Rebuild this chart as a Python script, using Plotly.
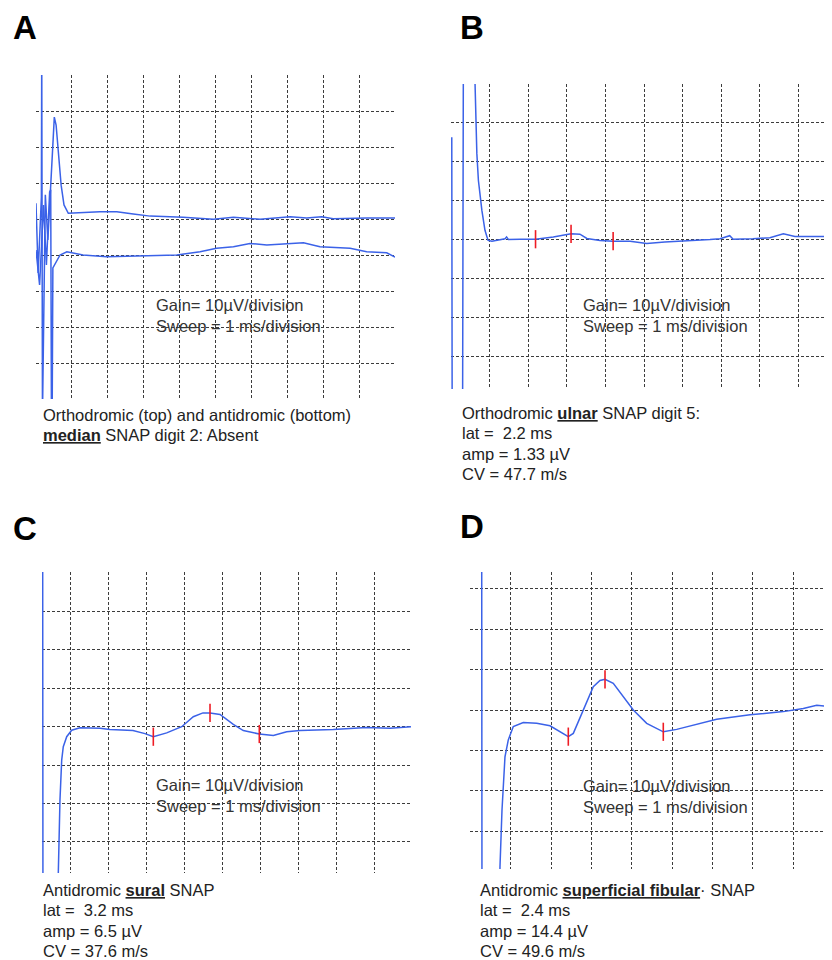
import plotly.graph_objects as go

W, H = 832, 960
OFF = 8  # browser body margin
FW, FH = W - OFF, H - OFF
BLUE = "#3b62e8"
RED = "#ee1c25"
GRID = "#3c3c3c"
FONT = "Liberation Sans, Arial, sans-serif"

# ---------------- data (time in ms, amplitude in µV) ----------------
# Panel A: orthodromic (top) and antidromic (bottom) median SNAP, absent
a_top_t = [0.00, 0.06, 0.15, 0.16, 0.18, 0.22, 0.26, 0.33, 0.40, 0.51, 0.56, 0.63, 0.70, 0.78, 0.90,
           1.78, 2.25, 2.71, 3.18, 4.10, 4.94, 5.50, 6.24, 7.08, 7.54, 7.96, 8.28, 9.21, 10.0]
a_top_v = [4.4, -15.0, 6.1, 48, -55, -22.5, 6.7, -5.8, 8.1, 28.3, 26.1, 17.8, 9.4, 3.9, 1.6,
           2.0, 2.0, 1.4, 0.8, 0.5, -0.1, 0.5, -0.1, 0.6, 0.3, 0.6, 0.1, 0.3, 0.3]
a_bot_t = [0.00, 0.10, 0.21, 0.29, 0.38, 0.41, 0.43, 0.45, 0.47, 0.56, 0.67, 0.86, 1.31, 1.97, 2.98,
           3.92, 4.57, 5.03, 5.50, 5.96, 6.43, 6.98, 7.45, 7.91, 8.75, 9.21, 9.77, 10.0]
a_bot_v = [-8.6, -18.3, 3.9, -12.8, 7.5, 8.1, -55, -55, -13.6, -11.9, -10.0, -9.1, -10.0, -10.5, -10.3,
           -10.0, -9.1, -8.1, -7.7, -6.8, -7.2, -6.9, -6.6, -7.7, -8.1, -9.1, -9.4, -10.6]

# Panel B: orthodromic ulnar SNAP digit 5
b_t = [0.02, 0.03, 0.30, 0.32, 0.61, 0.67, 0.71, 0.80, 0.88, 0.96, 1.06, 1.18, 1.40, 1.44, 1.49,
       1.79, 2.19, 2.65, 2.95, 3.11, 3.34, 3.52, 3.86, 4.20, 4.64, 5.07, 5.54, 6.11, 6.71, 6.97,
       7.22, 7.31, 7.82, 8.26, 8.61, 8.91, 9.30, 9.87]
b_v = [26.3, -45, -45, 45, 45, 22.1, 15.2, 7.5, 2.4, -0.2, -0.4, -0.2, 0.2, 0.7, 0.0,
       0.1, 0.1, 0.7, 1.1, 1.5, 1.4, 0.3, -0.2, -0.4, -0.4, -1.0, -0.6, -0.4, 0.0, 0.2,
       1.0, 0.1, 0.2, 0.5, 1.5, 0.8, 0.8, 0.8]
b_mark_t = [2.19, 3.11, 4.20]
b_mark_v = [0.1, 1.5, -0.4]

# Panel C: antidromic sural SNAP
c_t = [0.263, 0.27, 0.666, 0.674, 0.718, 0.763, 0.805, 0.895, 1.026, 1.245, 1.771, 2.034, 2.639,
       2.955, 3.174, 3.526, 3.921, 4.226, 4.48, 4.666, 4.929, 5.279, 5.542, 5.963, 6.332, 6.684,
       7.034, 7.911, 8.789, 9.403, 9.955]
c_v = [45, -45, -45, -38.1, -19.1, -8.7, -5.2, -2.6, -0.9, -0.3, -0.4, -0.7, -1.0,
       -1.8, -2.6, -1.6, 0.0, 2.6, 3.6, 3.6, 3.2, 0.6, -1.0, -1.9, -2.3, -1.3,
       -1.0, -0.7, -0.2, -0.4, 0.0]
c_mark_t = [3.174, 4.666, 5.963]
c_mark_v = [-2.6, 3.6, -1.9]

# Panel D: antidromic superficial fibular SNAP
d_t = [0.273, 0.280, 0.715, 0.727, 0.777, 0.851, 0.933, 1.057, 1.305, 1.638, 1.968, 2.216, 2.422,
       2.546, 2.794, 3.042, 3.208, 3.333, 3.538, 3.787, 4.035, 4.367, 4.779, 5.112, 5.690, 6.104,
       6.931, 7.757, 8.253, 8.586, 8.965]
d_v = [45, -45, -45, -38.8, -24.8, -11.6, -7.4, -4.1, -3.1, -3.3, -3.9, -5.4, -6.6,
       -5.8, 0.0, 5.8, 7.3, 7.6, 6.6, 3.3, 0.0, -3.3, -5.4, -4.8, -3.3, -2.3,
       -1.2, -0.4, 0.4, 1.2, 0.8]
d_mark_t = [2.422, 3.333, 4.779]
d_mark_v = [-6.6, 7.6, -5.4]

panel_letters = ["A", "B", "C", "D"]
gain_text = "Gain= 10µV/division"
sweep_text = "Sweep = 1 ms/division"
captions = {
    "A": ["Orthodromic (top) and antidromic (bottom)",
          "<b><u>median</u></b> SNAP digit 2: Absent"],
    "B": ["Orthodromic <b><u>ulnar</u></b> SNAP digit 5:",
          "lat =  2.2 ms", "amp = 1.33 µV", "CV = 47.7 m/s"],
    "C": ["Antidromic <b><u>sural</u></b> SNAP",
          "lat =  3.2 ms", "amp = 6.5 µV", "CV = 37.6 m/s"],
    "D": ["Antidromic <b><u>superficial fibular</u></b>· SNAP",
          "lat =  2.4 ms", "amp = 14.4 µV", "CV = 49.6 m/s"],
}

# ---------------- layout geometry (window pixels) ----------------
geom = {
    # left, right, top, bottom, xrange, yrange, xgrid, ygrid
    "A": (36, 395, 75, 399, [0, 10], [-50, 40], list(range(1, 10)), list(range(-40, 40, 10))),
    "B": (451, 832, 84, 389, [0, 9.87], [-38.4, 40], list(range(1, 10)), list(range(-30, 40, 10))),
    "C": (42, 411, 572, 873, [0.245, 9.955], [-38.1, 40.3], list(range(1, 10)), list(range(-30, 40, 10))),
    "D": (470, 832, 572, 869, [-0.017, 8.965], [-39.4, 34.2], list(range(1, 9)), list(range(-30, 40, 10))),
}
letter_pos = {"A": (25, 27), "B": (472, 27), "C": (25, 528), "D": (472, 526)}
gain_pos = {"A": (154, 305), "B": (581, 305), "C": (154, 785), "D": (581, 786)}
cap_pos = {"A": (41, 415), "B": (460, 413), "C": (41, 890), "D": (478, 890)}
cap_step = 20.3


def px(x):
    return (x - OFF) / FW


def py(y):
    return 1 - (y - OFF) / FH


fig = go.Figure()
layout = dict(
    width=FW, height=FH, margin=dict(l=0, r=0, t=0, b=0),
    paper_bgcolor="white", plot_bgcolor="white", showlegend=False,
    font=dict(family=FONT, color="#222"),
)

traces = {
    "A": [(a_top_t, a_top_v), (a_bot_t, a_bot_v)],
    "B": [(b_t, b_v)],
    "C": [(c_t, c_v)],
    "D": [(d_t, d_v)],
}
marks = {"B": (b_mark_t, b_mark_v), "C": (c_mark_t, c_mark_v), "D": (d_mark_t, d_mark_v)}

annotations = []
for i, key in enumerate(panel_letters):
    n = "" if i == 0 else str(i + 1)
    l, r, t, b, xr, yr, xg, yg = geom[key]
    axstyle = dict(showticklabels=False, ticks="", showline=False, zeroline=False,
                   showgrid=True, gridcolor=GRID, gridwidth=1, griddash="3px,2px",
                   tickmode="array", fixedrange=True)
    layout["xaxis" + n] = dict(domain=[max(0, px(l)), min(1, px(r))], range=xr, tickvals=xg,
                               anchor="y" + n, **axstyle)
    layout["yaxis" + n] = dict(domain=[py(b), py(t)], range=yr, tickvals=yg,
                               anchor="x" + n, **axstyle)
    for tt, vv in traces[key]:
        fig.add_trace(go.Scatter(x=tt, y=vv, mode="lines", xaxis="x" + n, yaxis="y" + n,
                                 line=dict(color=BLUE, width=1.5), hoverinfo="skip"))
    if key in marks:
        mt, mv = marks[key]
        fig.add_trace(go.Scatter(x=mt, y=mv, mode="markers", xaxis="x" + n, yaxis="y" + n,
                                 marker=dict(symbol="line-ns-open", size=13, color=RED,
                                             line=dict(color=RED, width=1.6)),
                                 hoverinfo="skip"))
    lx, ly = letter_pos[key]
    annotations.append(dict(text="<b>%s</b>" % key, x=px(lx), y=py(ly), xref="paper", yref="paper",
                            xanchor="center", yanchor="middle", showarrow=False,
                            font=dict(size=33, color="black", family=FONT)))
    gx, gy = gain_pos[key]
    for j, txt in enumerate([gain_text, sweep_text]):
        annotations.append(dict(text=txt, x=px(gx), y=py(gy + j * 21), xref="paper", yref="paper",
                                xanchor="left", yanchor="middle", showarrow=False,
                                font=dict(size=16.5, color="#333", family=FONT)))
    cx, cy = cap_pos[key]
    for j, txt in enumerate(captions[key]):
        annotations.append(dict(text=txt, x=px(cx), y=py(cy + j * cap_step), xref="paper",
                                yref="paper", xanchor="left", yanchor="middle", showarrow=False,
                                font=dict(size=16.5, color="#222", family=FONT)))

layout["annotations"] = annotations
fig.update_layout(**layout)
fig.write_html("out.html")
